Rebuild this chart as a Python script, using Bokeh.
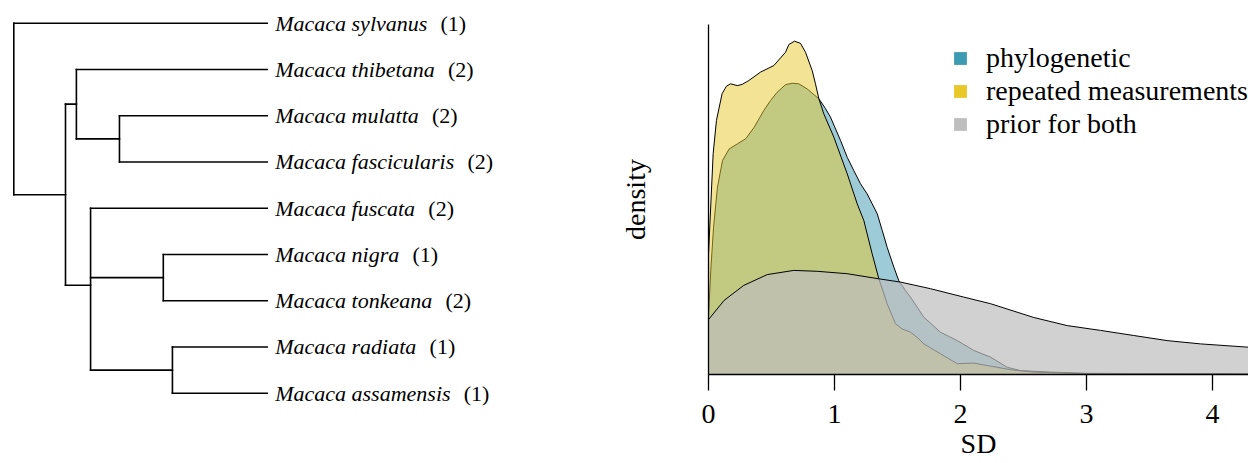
from bokeh.plotting import figure
from bokeh.models import Range1d, FixedTicker, Legend, LegendItem, ColumnDataSource
from bokeh.layouts import row
from bokeh.embed import file_html
from bokeh.resources import INLINE
from bokeh.core.properties import value

# ---------------- data: phylogeny ----------------
species = ["Macaca sylvanus", "Macaca thibetana", "Macaca mulatta", "Macaca fascicularis",
           "Macaca fuscata", "Macaca nigra", "Macaca tonkeana", "Macaca radiata",
           "Macaca assamensis"]
sample_counts = [1, 2, 2, 2, 2, 1, 2, 1, 1]
tip_depth = 1.0
node_names = ["root", "A", "B", "C", "D", "E", "F"]
node_depths = [0.0, 0.204, 0.247, 0.417, 0.303, 0.590, 0.626]
node_children = [
    ["Macaca sylvanus", "A"],
    ["B", "D"],
    ["Macaca thibetana", "C"],
    ["Macaca mulatta", "Macaca fascicularis"],
    ["Macaca fuscata", "E", "F"],
    ["Macaca nigra", "Macaca tonkeana"],
    ["Macaca radiata", "Macaca assamensis"],
]

# ---------------- data: densities ----------------
sd_phylo = [0, 0.018, 0.040, 0.071, 0.111, 0.164, 0.230, 0.296, 0.362, 0.439, 0.492, 0.545,
            0.611, 0.664, 0.717, 0.783, 0.876, 0.929, 0.968, 1.048, 1.101, 1.153, 1.206,
            1.259, 1.299, 1.339, 1.379, 1.418, 1.471, 1.51, 1.563, 1.603, 1.709, 1.841,
            1.974, 2.106, 2.238, 2.371, 2.476, 2.714, 3.0, 3.5, 4.0, 4.6]
dens_phylo = [0.191, 0.347, 0.491, 0.624, 0.713, 0.752, 0.769, 0.786, 0.824, 0.88, 0.913, 0.941,
              0.966, 0.971, 0.969, 0.952, 0.919, 0.886, 0.858, 0.78, 0.724, 0.68, 0.636,
              0.602, 0.569, 0.536, 0.48, 0.424, 0.358, 0.313, 0.28, 0.258, 0.191, 0.141,
              0.113, 0.08, 0.058, 0.024, 0.013, 0.008, 0.004, 0.003, 0.003, 0.001]

sd_repeat = [0, 0.037, 0.063, 0.108, 0.142, 0.175, 0.228, 0.267, 0.32, 0.413, 0.519, 0.611,
             0.638, 0.683, 0.730, 0.770, 0.823, 0.849, 0.876, 0.915, 0.995, 1.101, 1.18,
             1.233, 1.299, 1.352, 1.418, 1.484, 1.537, 1.603, 1.656, 1.709, 1.841, 1.974,
             2.106, 2.212, 2.397, 2.579, 3.0, 4.0, 4.6]
dens_repeat = [0.402, 0.736, 0.847, 0.936, 0.961, 0.969, 0.963, 0.967, 0.98, 1.008, 1.03, 1.074,
               1.1, 1.111, 1.104, 1.074, 1.013, 0.969, 0.919, 0.869, 0.791, 0.669, 0.569,
               0.513, 0.402, 0.319, 0.236, 0.169, 0.152, 0.141, 0.124, 0.102, 0.069, 0.036,
               0.038, 0.03, 0.016, 0.008, 0.003, 0.002, 0.001]

sd_prior = [0, 0.124, 0.28, 0.466, 0.677, 0.863, 1.10, 1.352, 1.524, 1.762, 2.026, 2.238,
            2.582, 2.847, 3.111, 3.375, 3.640, 3.905, 4.286, 4.6]
dens_prior = [0.183, 0.247, 0.297, 0.333, 0.347, 0.344, 0.336, 0.319, 0.308, 0.286, 0.258, 0.236,
              0.19, 0.163, 0.147, 0.130, 0.113, 0.102, 0.091, 0.083]

series_labels = ["phylogenetic", "repeated measurements", "prior for both"]
series_colors = ["#3c9ab2", "#e8c829", "#bebebe"]
series_alpha = [0.5, 0.5, 0.7]
x_ticks = [0, 1, 2, 3, 4]

SERIF = "Liberation Serif"
BIG = "28px"

# ---------------- tree layout ----------------
row_of = {name: i for i, name in enumerate(species)}
depth_of = {name: tip_depth for name in species}
children_of = {}
for n, d, ch in zip(node_names, node_depths, node_children):
    depth_of[n] = d
    children_of[n] = ch


def ypos(n):
    if n in row_of:
        return float(row_of[n])
    ys = [ypos(c) for c in children_of[n]]
    return sum(ys) / len(ys)


x0, y0, x1, y1 = [], [], [], []
for n in node_names:
    d = depth_of[n]
    cy = [ypos(c) for c in children_of[n]]
    x0.append(d); x1.append(d); y0.append(min(cy)); y1.append(max(cy))
    for c in children_of[n]:
        x0.append(d); x1.append(depth_of[c]); y0.append(ypos(c)); y1.append(ypos(c))

p1 = figure(width=600, height=463, output_backend="svg", toolbar_location=None,
            x_range=Range1d(-0.0525, 2.3153), y_range=Range1d(9.519, -0.4908),
            min_border=0, min_border_left=0, min_border_right=0, min_border_top=0,
            min_border_bottom=0, x_axis_location=None, y_axis_location=None)
p1.frame_align = False
p1.grid.visible = False
p1.outline_line_color = None
p1.segment(x0=x0, y0=y0, x1=x1, y1=y1, line_color="black", line_width=1.6,
           line_cap="square")

# approximate advance widths (per 1000 em) of a Times-style italic, to place counts
ITALIC_W = {'M': 833, 'a': 500, 'c': 444, 's': 389, 'y': 444, 'l': 278, 'v': 444, 'n': 500,
            'u': 500, 't': 278, 'h': 500, 'i': 278, 'b': 500, 'e': 444, 'm': 722, 'f': 278,
            'r': 389, 'o': 500, 'g': 500, 'k': 444, 'd': 500, 'p': 500, ' ': 250}
LABEL_PX = 22
name_offset = 8
count_offsets = [name_offset + sum(ITALIC_W.get(ch, 500) for ch in nm) / 1000 * LABEL_PX
                 + 0.6 * LABEL_PX for nm in species]

name_src = ColumnDataSource(dict(x=[tip_depth] * len(species),
                                 y=[float(row_of[s]) for s in species], text=species))
count_src = ColumnDataSource(dict(x=[tip_depth] * len(species),
                                  y=[float(row_of[s]) for s in species],
                                  text=["(%d)" % c for c in sample_counts],
                                  xo=count_offsets))
p1.text(x="x", y="y", text="text", source=name_src, x_offset=name_offset,
        text_font=value(SERIF), text_font_style="italic", text_font_size="%dpx" % LABEL_PX,
        text_baseline="middle", text_align="left", text_color="black")
p1.text(x="x", y="y", text="text", source=count_src, x_offset="xo",
        text_font=value(SERIF), text_font_style="normal", text_font_size="%dpx" % LABEL_PX,
        text_baseline="middle", text_align="left", text_color="black")

# ---------------- density plot ----------------
p2 = figure(width=648, height=463, output_backend="svg", toolbar_location=None,
            x_range=Range1d(0, 4.2857), y_range=Range1d(0, 1.1667),
            min_border_left=108, min_border_right=0, min_border_top=24,
            min_border_bottom=89)
p2.frame_align = False
p2.grid.visible = False
p2.outline_line_color = None

for xs, ys, col, a in zip([sd_phylo, sd_repeat, sd_prior],
                          [dens_phylo, dens_repeat, dens_prior],
                          series_colors, series_alpha):
    px = [xs[0]] + list(xs) + [xs[-1]]
    py = [0] + list(ys) + [0]
    p2.patch(px, py, fill_color=col, fill_alpha=a, line_color="black", line_width=1,
             line_join="round")

xa = p2.xaxis[0]
xa.ticker = FixedTicker(ticks=x_ticks)
xa.major_tick_out = 16
xa.major_tick_in = 0
xa.minor_tick_out = 0
xa.minor_tick_in = 0
xa.major_tick_line_width = 1.3
xa.axis_line_width = 1.3
xa.major_label_text_font = SERIF
xa.major_label_text_font_size = BIG
xa.major_label_text_color = "black"
xa.major_label_standoff = 14
xa.axis_label = "SD"
xa.axis_label_text_font = SERIF
xa.axis_label_text_font_style = "normal"
xa.axis_label_text_font_size = BIG
xa.axis_label_text_color = "black"
xa.axis_label_standoff = 2

ya = p2.yaxis[0]
ya.ticker = FixedTicker(ticks=[])
ya.major_tick_out = 0
ya.major_tick_in = 0
ya.minor_tick_out = 0
ya.minor_tick_in = 0
ya.axis_line_width = 1.3
ya.axis_label = "density"
ya.axis_label_text_font = SERIF
ya.axis_label_text_font_style = "normal"
ya.axis_label_text_font_size = BIG
ya.axis_label_text_color = "black"
ya.axis_label_standoff = 58

nan = float("nan")
items = []
for lab, col in zip(series_labels, series_colors):
    r = p2.quad(left=[nan], right=[nan], top=[nan], bottom=[nan], fill_color=col,
                line_color=None)
    items.append(LegendItem(label=lab, renderers=[r]))
legend = Legend(items=items, location=(244, 234), glyph_width=16, glyph_height=16,
                label_standoff=18, padding=0, spacing=1, label_height=30, margin=0,
                label_text_font=SERIF, label_text_font_size=BIG,
                label_text_color="black", border_line_color=None,
                background_fill_alpha=0)
p2.add_layout(legend)

layout = row(p1, p2)
open("out.html", "w").write(file_html(layout, INLINE))
